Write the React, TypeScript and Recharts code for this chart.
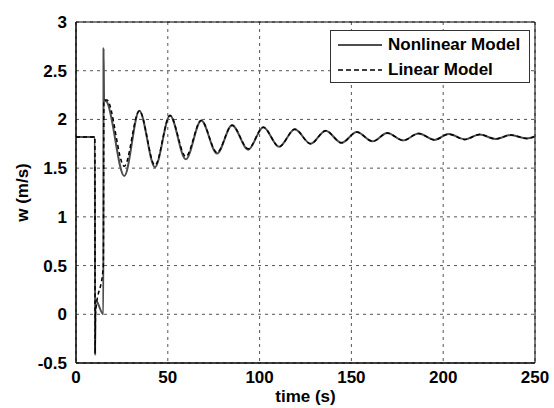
import React from "react";
import {
  LineChart,
  Line,
  XAxis,
  YAxis,
  CartesianGrid,
  ReferenceArea,
} from "recharts";

// Nonlinear model (time in s, w in m/s)
const nonlinearTime = [
  0, 10.3, 10.4, 10.6, 14.9, 15.0, 15.3, 16.8, 26.3, 34.5, 43.0, 51.2, 59.8,
  68.2, 76.8, 85.0, 93.8, 102.0, 110.6, 119.2, 127.8, 136.0, 144.6, 152.9,
  161.6, 169.5, 178.2, 186.6, 195.3, 203.0, 211.8, 219.8, 228.6, 236.8, 245.4,
  250,
];
const nonlinearW = [
  1.82, 1.82, -0.42, 0.15, 0.0, 2.73, 2.2, 2.18, 1.42, 2.09, 1.51, 2.04, 1.59,
  1.99, 1.65, 1.94, 1.69, 1.92, 1.72, 1.9, 1.75, 1.885, 1.76, 1.87, 1.775,
  1.86, 1.785, 1.855, 1.79, 1.85, 1.795, 1.845, 1.8, 1.84, 1.805, 1.825,
];

// Linear model
const linearTime = [
  0, 10.3, 10.4, 10.6, 14.9, 15.2, 16.8, 26.3, 34.5, 43.0, 51.2, 59.8, 68.2,
  76.8, 85.0, 93.8, 102.0, 110.6, 119.2, 127.8, 136.0, 144.6, 152.9, 161.6,
  169.5, 178.2, 186.6, 195.3, 203.0, 211.8, 219.8, 228.6, 236.8, 245.4, 250,
];
const linearW = [
  1.82, 1.82, -0.4, 0.0, 0.5, 2.2, 2.2, 1.52, 2.09, 1.53, 2.04, 1.62, 1.99,
  1.66, 1.94, 1.7, 1.92, 1.72, 1.9, 1.75, 1.885, 1.76, 1.87, 1.775, 1.86,
  1.785, 1.855, 1.79, 1.85, 1.795, 1.845, 1.8, 1.84, 1.805, 1.825,
];

const xTicks = [0, 50, 100, 150, 200, 250];
const yTicks = [-0.5, 0, 0.5, 1, 1.5, 2, 2.5, 3];
const seriesNames = ["Nonlinear Model", "Linear Model"];

const nonlinearData = nonlinearTime.map((t, i) => ({ t, w: nonlinearW[i] }));
const linearData = linearTime.map((t, i) => ({ t, w: linearW[i] }));

const FONT = "'Liberation Sans', Arial, sans-serif";

const LegendBox = () => (
  <div
    style={{
      position: "absolute",
      left: 330,
      top: 30,
      width: 200,
      height: 53,
      border: "1px solid #333",
      background: "#fff",
      fontFamily: FONT,
      fontSize: 17,
      fontWeight: "bold",
      color: "#000",
      boxSizing: "border-box",
      paddingTop: 1,
    }}
  >
    <div style={{ display: "flex", alignItems: "center", height: 25 }}>
      <svg width={48} height={10} style={{ marginLeft: 6, marginRight: 3 }}>
        <line x1={1} y1={5} x2={45} y2={5} stroke="#4d4d4d" strokeWidth={2} />
      </svg>
      <span>{seriesNames[0]}</span>
    </div>
    <div style={{ display: "flex", alignItems: "center", height: 25 }}>
      <svg width={48} height={10} style={{ marginLeft: 6, marginRight: 3 }}>
        <line
          x1={1}
          y1={5}
          x2={45}
          y2={5}
          stroke="#000"
          strokeWidth={1.5}
          strokeDasharray="5 3"
        />
      </svg>
      <span>{seriesNames[1]}</span>
    </div>
  </div>
);

const tickStyle = { fill: "#000", fontSize: 17, fontWeight: "bold", fontFamily: FONT };

export default function App() {
  return (
    <div style={{ position: "absolute", left: 0, top: 0, width: 554, height: 408, background: "#fff" }}>
      <LineChart
        width={554}
        height={408}
        margin={{ top: 22, right: 19, bottom: 15, left: 36 }}
      >
        <CartesianGrid
          stroke="#555"
          strokeDasharray="3 4"
          strokeWidth={1}
          horizontalValues={yTicks}
          verticalValues={xTicks}
        />
        <XAxis
          type="number"
          dataKey="t"
          domain={[0, 250]}
          ticks={xTicks}
          allowDataOverflow
          height={30}
          tickLine={false}
          axisLine={{ stroke: "#000" }}
          tick={tickStyle}
          tickMargin={2}
          label={{
            value: "time (s)",
            position: "insideBottom",
            offset: -9,
            fill: "#000",
            fontSize: 17,
            fontWeight: "bold",
            fontFamily: FONT,
          }}
        />
        <YAxis
          type="number"
          dataKey="w"
          domain={[-0.5, 3]}
          ticks={yTicks}
          allowDataOverflow
          width={40}
          tickLine={false}
          axisLine={{ stroke: "#000" }}
          tick={tickStyle}
          tickMargin={3}
          label={{
            value: "w (m/s)",
            angle: -90,
            position: "insideLeft",
            offset: -14,
            style: { textAnchor: "middle" },
            fill: "#000",
            fontSize: 17,
            fontWeight: "bold",
            fontFamily: FONT,
          }}
        />
        <ReferenceArea
          x1={0}
          x2={250}
          y1={-0.5}
          y2={3}
          fill="none"
          fillOpacity={0}
          stroke="#000"
          strokeWidth={1}
          ifOverflow="visible"
        />
        <Line
          data={nonlinearData}
          dataKey="w"
          name={seriesNames[0]}
          type="monotone"
          stroke="#4d4d4d"
          strokeWidth={2}
          dot={false}
          activeDot={false}
          isAnimationActive={false}
        />
        <Line
          data={linearData}
          dataKey="w"
          name={seriesNames[1]}
          type="monotone"
          stroke="#000"
          strokeWidth={1.5}
          strokeDasharray="4 3"
          dot={false}
          activeDot={false}
          isAnimationActive={false}
        />
      </LineChart>
      <LegendBox />
    </div>
  );
}
